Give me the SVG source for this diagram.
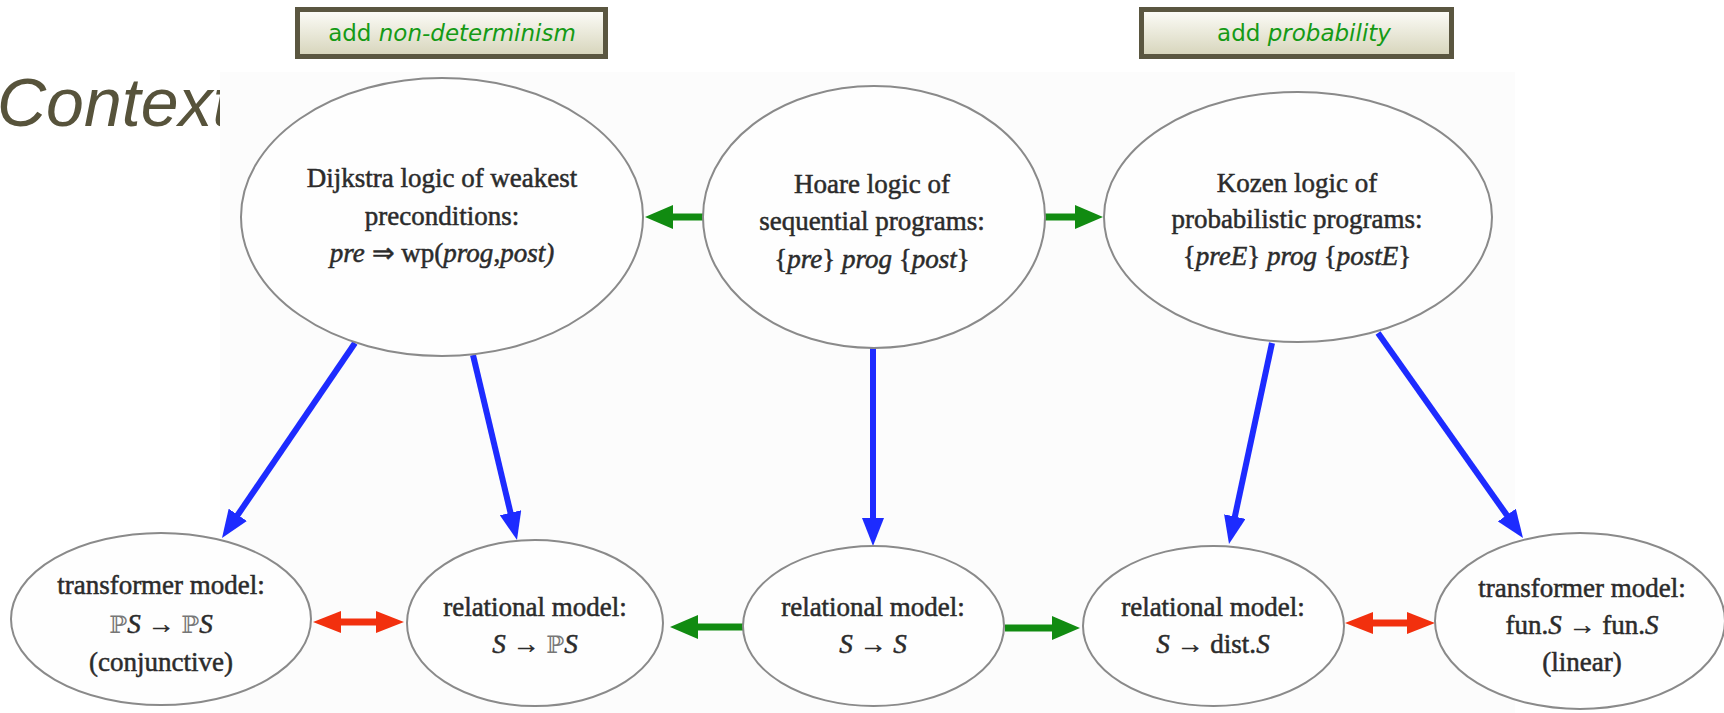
<svg xmlns="http://www.w3.org/2000/svg" width="1724" height="713" viewBox="0 0 1724 713">
<defs>
  <linearGradient id="boxfill" x1="0" y1="0" x2="0" y2="1">
    <stop offset="0" stop-color="#fdfdf9"/>
    <stop offset="1" stop-color="#d6d4ba"/>
  </linearGradient>
  <marker id="hb" markerUnits="userSpaceOnUse" markerWidth="28" markerHeight="22" refX="6" refY="11" orient="auto">
    <path d="M0,0 L28,11 L0,22 z" fill="#1d2bff"/>
  </marker>
  <marker id="hg" markerUnits="userSpaceOnUse" markerWidth="28" markerHeight="24" refX="6" refY="12" orient="auto">
    <path d="M0,0 L28,12 L0,24 z" fill="#118b11"/>
  </marker>
  <marker id="hr" markerUnits="userSpaceOnUse" markerWidth="28" markerHeight="22" refX="6" refY="11" orient="auto-start-reverse">
    <path d="M0,0 L28,11 L0,22 z" fill="#f2300e"/>
  </marker>
  <style>
    .title{font-family:"Liberation Sans",Arial,sans-serif;font-style:italic;font-size:68px;fill:#57533b}
    .box{fill:url(#boxfill);stroke:#5a5640;stroke-width:5}
    .boxt{font-family:"DejaVu Sans",Verdana,sans-serif;font-size:23px;fill:#159a15;text-anchor:middle}
    .node{fill:#fefefe;stroke:#8a8a8a;stroke-width:2}
    .nt{font-family:"Liberation Serif","Times New Roman",serif;font-size:27px;fill:#2b2b2b;stroke:#2b2b2b;stroke-width:0.5;text-anchor:middle}
    .i{font-style:italic}
    .bb{font-family:"DejaVu Serif",serif;fill:#777;stroke:none;font-size:24px}
    .blue{stroke:#1d2bff;stroke-width:6;fill:none;marker-end:url(#hb)}
    .green{stroke:#118b11;stroke-width:7;fill:none;marker-end:url(#hg)}
    .red{stroke:#f2300e;stroke-width:7;fill:none;marker-start:url(#hr);marker-end:url(#hr)}
  </style>
</defs>
<rect x="0" y="0" width="1724" height="713" fill="#ffffff"/>
<text class="title" x="-3" y="126">Context</text>
<rect x="220" y="72" width="1295" height="641" fill="#fcfcfc"/>

<g id="label-nondeterminism">
  <rect class="box" x="297.5" y="9.5" width="308" height="47"/>
  <text class="boxt" x="452" y="41">add <tspan class="i">non-determinism</tspan></text>
</g>
<g id="label-probability">
  <rect class="box" x="1141.5" y="9.5" width="310" height="47"/>
  <text class="boxt" x="1304" y="41">add <tspan class="i">probability</tspan></text>
</g>

<g id="connectors">
  <line class="green" x1="703" y1="217" x2="667" y2="217"/>
  <line class="green" x1="1045" y1="217" x2="1081" y2="217"/>
  <line class="blue" x1="355" y1="343" x2="234.4" y2="519.8"/>
  <line class="blue" x1="473" y1="355" x2="511.9" y2="518.6"/>
  <line class="blue" x1="873" y1="348" x2="873" y2="524"/>
  <line class="blue" x1="1272" y1="343" x2="1233.6" y2="522.5"/>
  <line class="blue" x1="1378" y1="333" x2="1510.3" y2="520"/>
  <line class="green" x1="743" y1="627" x2="692" y2="627"/>
  <line class="green" x1="1005" y1="628" x2="1058" y2="628"/>
  <line class="red" x1="335" y1="622" x2="382" y2="622"/>
  <line class="red" x1="1367" y1="623" x2="1413" y2="623"/>
</g>

<g id="dijkstra">
  <ellipse class="node" cx="442" cy="217" rx="201" ry="139"/>
  <text class="nt" x="442" y="187">Dijkstra logic of weakest</text>
  <text class="nt" x="442" y="225">preconditions:</text>
  <text class="nt" x="442" y="262"><tspan class="i">pre</tspan> ⇒ wp(<tspan class="i">prog</tspan>,<tspan class="i">post)</tspan></text>
</g>
<g id="hoare">
  <ellipse class="node" cx="874" cy="217" rx="171" ry="131"/>
  <text class="nt" x="872" y="193">Hoare logic of</text>
  <text class="nt" x="872" y="230">sequential programs:</text>
  <text class="nt" x="872" y="268">{<tspan class="i">pre</tspan>} <tspan class="i">prog</tspan> {<tspan class="i">post</tspan>}</text>
</g>
<g id="kozen">
  <ellipse class="node" cx="1298" cy="217" rx="194" ry="125"/>
  <text class="nt" x="1297" y="192">Kozen logic of</text>
  <text class="nt" x="1297" y="228">probabilistic programs:</text>
  <text class="nt" x="1297" y="265">{<tspan class="i">preE</tspan>} <tspan class="i">prog</tspan> {<tspan class="i">postE</tspan>}</text>
</g>

<g id="transformer-conjunctive">
  <ellipse class="node" cx="161" cy="619" rx="150" ry="86"/>
  <text class="nt" x="161" y="594">transformer model:</text>
  <text class="nt" x="161" y="633"><tspan class="bb">ℙ</tspan><tspan class="i">S</tspan> → <tspan class="bb">ℙ</tspan><tspan class="i">S</tspan></text>
  <text class="nt" x="161" y="671">(conjunctive)</text>
</g>
<g id="relational-power">
  <ellipse class="node" cx="535" cy="623" rx="128" ry="83"/>
  <text class="nt" x="535" y="616">relational model:</text>
  <text class="nt" x="535" y="653"><tspan class="i">S</tspan> → <tspan class="bb">ℙ</tspan><tspan class="i">S</tspan></text>
</g>
<g id="relational-fun">
  <ellipse class="node" cx="873.5" cy="626" rx="130.5" ry="80"/>
  <text class="nt" x="873" y="616">relational model:</text>
  <text class="nt" x="873" y="653"><tspan class="i">S</tspan> → <tspan class="i">S</tspan></text>
</g>
<g id="relational-dist">
  <ellipse class="node" cx="1213.5" cy="626" rx="130.5" ry="80"/>
  <text class="nt" x="1213" y="616">relational model:</text>
  <text class="nt" x="1213" y="653"><tspan class="i">S</tspan> → dist.<tspan class="i">S</tspan></text>
</g>
<g id="transformer-linear">
  <ellipse class="node" cx="1580" cy="621" rx="145" ry="88"/>
  <text class="nt" x="1582" y="597">transformer model:</text>
  <text class="nt" x="1582" y="634">fun.<tspan class="i">S</tspan> → fun.<tspan class="i">S</tspan></text>
  <text class="nt" x="1582" y="671">(linear)</text>
</g>
</svg>
